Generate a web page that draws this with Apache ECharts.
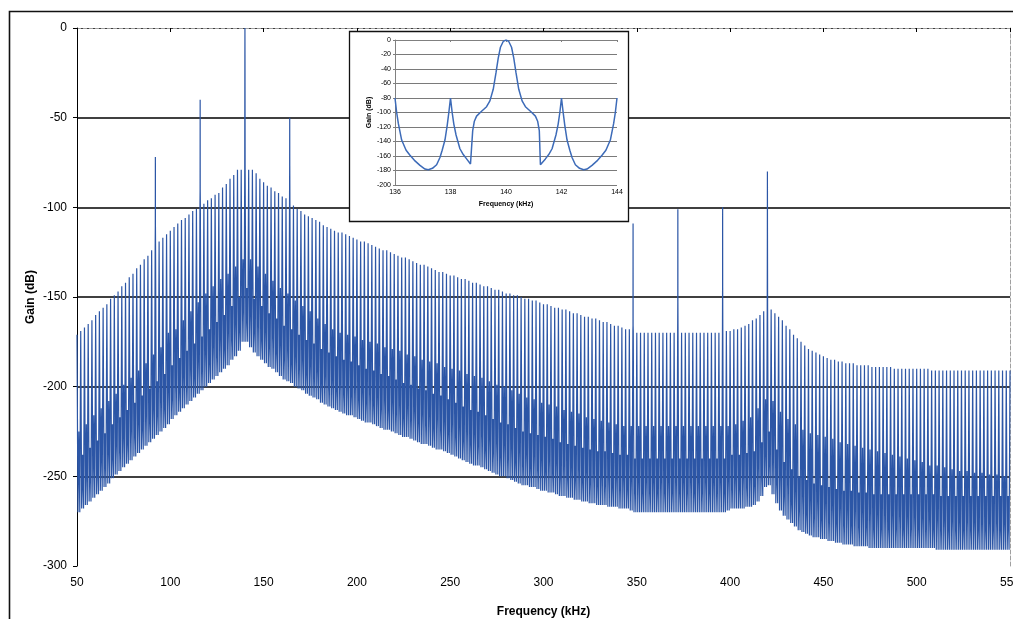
<!DOCTYPE html>
<html>
<head>
<meta charset="utf-8">
<script src="https://cdn.jsdelivr.net/npm/echarts@6/dist/echarts.min.js"></script>
<style>
  html, body { margin: 0; padding: 0; background: #fff; }
  #chart { width: 1013px; height: 619px; }
</style>
</head>
<body>
<div id="chart"></div>
<script>
// Harmonic lobes every 2 kHz from 50 to 550 kHz
const LOBE_START = 50;
const LOBE_STEP = 2;

// Lobe peak level (dB), one per lobe, 50..550 kHz
const peakDb = [
  -171,-169,-167,-165,-163,-160,-158,-156,-154,-151,
  -149,-147,-144,-142,-139,-137,-134,-132,-129,-127,
  -124,-122,-119,-117,-115,-113,-111,-109,-107,-106,
  -104,-102,-101,-99,-98,-96,-95,-93,-92,-89,
  -87,-84,-82,-79,-79,-78,-79,-79,-81,-84,
  -86,-88,-89,-91,-92,-94,-95,-97,-99,-101,
  -102,-104,-105,-106,-107,-108,-110,-111,-112,-113,
  -114,-114,-115,-116,-117,-118,-119,-119,-120,-121,
  -122,-123,-124,-124,-125,-126,-127,-128,-128,-129,
  -130,-131,-132,-132,-133,-134,-135,-136,-136,-137,
  -138,-138,-139,-140,-140,-141,-142,-142,-143,-144,
  -144,-145,-146,-146,-147,-148,-148,-149,-149,-150,
  -151,-151,-152,-152,-153,-154,-154,-155,-156,-156,
  -157,-157,-158,-159,-159,-160,-161,-161,-162,-162,
  -163,-164,-164,-165,-166,-166,-167,-168,-168,-169,
  -170,-170,-170,-170,-170,-170,-170,-170,-170,-170,
  -170,-170,-170,-170,-170,-170,-170,-170,-170,-170,
  -170,-170,-170,-170,-169,-169,-168,-168,-167,-166,
  -165,-163,-162,-160,-158,-157,-157,-159,-161,-163,
  -166,-168,-171,-173,-175,-177,-179,-180,-181,-182,
  -183,-184,-185,-185,-186,-186,-187,-187,-187,-188,
  -188,-188,-188,-189,-189,-189,-189,-189,-189,-190,
  -190,-190,-190,-190,-190,-190,-190,-190,-190,-191,
  -191,-191,-191,-191,-191,-191,-191,-191,-191,-191,
  -191,-191,-191,-191,-191,-191,-191,-191,-191,-191,
  -191
];

// Deep null between lobes (dB), lobes 50..548 kHz
const troughDb = [
  -270,-268,-266,-264,-262,-260,-258,-256,-254,-251,
  -249,-247,-245,-243,-241,-239,-237,-235,-233,-231,
  -229,-227,-225,-223,-221,-218,-216,-214,-212,-210,
  -208,-206,-204,-202,-200,-198,-196,-194,-192,-190,
  -188,-185,-183,-180,-175,-175,-178,-181,-183,-185,
  -187,-189,-190,-192,-194,-196,-197,-198,-200,-201,
  -202,-204,-205,-206,-207,-209,-210,-211,-212,-213,
  -214,-215,-216,-216,-217,-218,-219,-220,-220,-221,
  -222,-223,-224,-224,-225,-226,-227,-228,-228,-229,
  -230,-231,-232,-232,-233,-234,-235,-235,-236,-237,
  -238,-239,-240,-241,-242,-243,-244,-244,-245,-246,
  -247,-248,-249,-250,-250,-251,-252,-253,-254,-255,
  -255,-256,-256,-257,-258,-258,-259,-259,-260,-261,
  -261,-262,-262,-263,-263,-264,-264,-265,-265,-266,
  -266,-266,-267,-267,-267,-268,-268,-268,-269,-270,
  -270,-270,-270,-270,-270,-270,-270,-270,-270,-270,
  -270,-270,-270,-270,-270,-270,-270,-270,-270,-270,
  -270,-270,-270,-270,-269,-268,-268,-268,-268,-267,
  -267,-266,-264,-261,-256,-255,-260,-265,-269,-272,
  -274,-276,-278,-280,-281,-282,-283,-284,-284,-285,
  -285,-286,-286,-287,-287,-288,-288,-288,-289,-289,
  -289,-289,-290,-290,-290,-290,-290,-290,-290,-290,
  -290,-290,-290,-290,-290,-290,-290,-290,-290,-290,
  -291,-291,-291,-291,-291,-291,-291,-291,-291,-291,
  -291,-291,-291,-291,-291,-291,-291,-291,-291,-291
];

// Secondary sidelobe between two nulls (dB), lobes 50..548 kHz
const midDb = [
  -225,-238,-221,-234,-216,-230,-212,-226,-208,-221,
  -204,-217,-199,-213,-195,-209,-191,-205,-187,-201,
  -182,-197,-178,-193,-170,-188,-168,-184,-163,-180,
  -158,-176,-153,-172,-148,-168,-144,-164,-140,-160,
  -137,-155,-133,-150,-129,-145,-129,-151,-133,-155,
  -137,-159,-141,-162,-145,-166,-148,-168,-152,-171,
  -155,-174,-158,-176,-162,-179,-165,-181,-168,-183,
  -170,-185,-171,-186,-172,-188,-174,-190,-175,-191,
  -176,-193,-178,-194,-179,-196,-180,-198,-182,-199,
  -183,-201,-185,-202,-186,-204,-187,-205,-189,-207,
  -190,-209,-191,-211,-193,-213,-194,-214,-195,-216,
  -197,-218,-199,-220,-200,-221,-202,-223,-204,-225,
  -206,-226,-207,-227,-209,-228,-210,-229,-211,-231,
  -213,-232,-214,-233,-215,-234,-217,-235,-218,-236,
  -219,-236,-220,-237,-221,-238,-222,-238,-222,-240,
  -222,-240,-222,-240,-222,-240,-222,-240,-222,-240,
  -222,-240,-222,-240,-222,-240,-222,-240,-222,-240,
  -222,-240,-222,-240,-222,-238,-221,-238,-219,-237,
  -217,-236,-212,-231,-207,-225,-208,-235,-214,-242,
  -218,-246,-221,-250,-224,-252,-226,-254,-227,-255,
  -228,-256,-229,-257,-231,-258,-232,-258,-233,-259,
  -234,-259,-235,-260,-236,-260,-237,-260,-238,-260,
  -239,-260,-240,-260,-241,-260,-242,-260,-244,-260,
  -244,-261,-245,-261,-246,-261,-247,-261,-247,-261,
  -248,-261,-248,-261,-249,-261,-249,-261,-250,-261
];

// Discrete tones: carrier at 140 kHz and spurs every 24 kHz
const spurFreq     = [92, 116, 140, 164, 348, 372, 396, 420];
const spurTopDb    = [-72, -40, 0, -50, -109, -101, -100, -80];
const spurShoulder = [-110, -90, -15, -77, -166, -153, -145, -114];

// Zoomed view around the carrier (136..144 kHz)
const zoomFreq = [
  136.00,136.06,136.12,136.24,136.40,136.54,136.70,136.90,137.08,137.20,
  137.35,137.50,137.62,137.70,137.80,137.88,137.94,138.00,138.06,138.12,
  138.20,138.34,138.46,138.58,138.72,138.76,138.80,138.86,138.94,139.10,
  139.30,139.42,139.54,139.64,139.72,139.80,139.90,140.00,140.10,140.20,
  140.28,140.36,140.46,140.58,140.70,140.90,141.06,141.14,141.20,141.24,
  141.28,141.42,141.54,141.66,141.80,141.88,141.94,142.00,142.06,142.12,
  142.20,142.30,142.38,142.50,142.65,142.80,142.92,143.10,143.30,143.46,
  143.60,143.76,143.88,143.94,144.00
];
const zoomGain = [
  -80,-100,-115,-138,-152,-159,-166,-173,-178,-179,
  -177,-172,-162,-152,-138,-118,-100,-80,-100,-116,
  -131,-150,-158,-164,-171,-172,-125,-112,-105,-99,
  -92,-84,-68,-45,-25,-10,-2,0,-2,-10,
  -25,-45,-68,-84,-92,-99,-105,-112,-125,-172,
  -171,-164,-158,-150,-131,-116,-100,-80,-100,-118,
  -138,-152,-162,-172,-177,-179,-178,-173,-166,-159,
  -152,-138,-115,-100,-80
];

// Axis tick settings
const freqTicks = { min: 50, max: 550, step: 50 };
const gainTicks = { min: -300, max: 0, step: 50 };
const zoomFreqTicks = { min: 136, max: 144, step: 2 };
const zoomGainTicks = { min: -200, max: 0, step: 20 };

// Assemble the swept response: peak, null, secondary lobe, null, next peak
const spectrum = [];
peakDb.forEach((p, i) => {
  const f = LOBE_START + i * LOBE_STEP;
  const s = spurFreq.indexOf(f);
  if (s >= 0) {
    spectrum.push([f - 0.1, p], [f - 0.03, spurShoulder[s]], [f, spurTopDb[s]],
                  [f + 0.03, spurShoulder[s]], [f + 0.1, p]);
  } else {
    spectrum.push([f, p]);
  }
  if (i < troughDb.length) {
    spectrum.push([f + 0.5, troughDb[i]], [f + 1, midDb[i]], [f + 1.5, troughDb[i]]);
  }
});
const zoomData = zoomFreq.map((f, i) => [f, zoomGain[i]]);

const FONT = 'Liberation Sans, Arial, sans-serif';
const chart = echarts.init(document.getElementById('chart'), null, { renderer: 'canvas' });

chart.setOption({
  animation: false,
  backgroundColor: '#fff',
  textStyle: { fontFamily: FONT },
  grid: [
    { left: 77, right: 3, top: 28, bottom: 53, outerBoundsMode: 'none', containLabel: false },
    { left: 395, top: 40, width: 222, height: 145, outerBoundsMode: 'none', containLabel: false }
  ],
  xAxis: [
    {
      type: 'value', gridIndex: 0,
      min: freqTicks.min, max: freqTicks.max, interval: freqTicks.step,
      name: 'Frequency (kHz)', nameLocation: 'middle', nameGap: 40, nameMoveOverlap: false,
      nameTextStyle: { fontFamily: FONT, fontSize: 12, fontWeight: 'bold', color: '#000' },
      axisLine: { lineStyle: { color: '#000', width: 1 } },
      axisTick: { show: true, length: 4, lineStyle: { color: '#000' } },
      axisLabel: { color: '#000', fontSize: 12, fontFamily: FONT, margin: 11, showMaxLabel: true, hideOverlap: false },
      splitLine: { show: false }
    },
    {
      type: 'value', gridIndex: 0, position: 'top',
      min: freqTicks.min, max: freqTicks.max,
      axisLine: { lineStyle: { color: '#a0a0a0', type: 'dashed', width: 1 } },
      axisTick: { show: false }, axisLabel: { show: false }, splitLine: { show: false }
    },
    {
      type: 'value', gridIndex: 1, z: 20,
      min: zoomFreqTicks.min, max: zoomFreqTicks.max, interval: zoomFreqTicks.step,
      name: 'Frequency (kHz)', nameLocation: 'middle', nameGap: 16, nameMoveOverlap: false,
      nameTextStyle: { fontFamily: FONT, fontSize: 7, fontWeight: 'bold', color: '#000' },
      axisLine: { lineStyle: { color: '#808080', width: 1 } },
      axisTick: { show: true, length: 2, lineStyle: { color: '#808080' } },
      axisLabel: { color: '#000', fontSize: 7, fontFamily: FONT, margin: 4 },
      splitLine: { show: false }
    }
  ],
  yAxis: [
    {
      type: 'value', gridIndex: 0,
      min: gainTicks.min, max: gainTicks.max, interval: gainTicks.step,
      name: 'Gain (dB)', nameLocation: 'middle', nameGap: 40, nameRotate: 90, nameMoveOverlap: false,
      nameTextStyle: { fontFamily: FONT, fontSize: 12, fontWeight: 'bold', color: '#000' },
      axisLine: { show: true, lineStyle: { color: '#000', width: 1 } },
      axisTick: { show: true, length: 4, lineStyle: { color: '#000' } },
      axisLabel: { color: '#000', fontSize: 12, fontFamily: FONT, margin: 10 },
      splitLine: { show: true, showMaxLine: false, showMinLine: false, lineStyle: { color: '#000', width: 1.5 } }
    },
    {
      type: 'value', gridIndex: 0, position: 'right',
      min: gainTicks.min, max: gainTicks.max,
      axisLine: { show: true, lineStyle: { color: '#a0a0a0', type: 'dashed', width: 1 } },
      axisTick: { show: false }, axisLabel: { show: false }, splitLine: { show: false }
    },
    {
      type: 'value', gridIndex: 1, z: 20,
      min: zoomGainTicks.min, max: zoomGainTicks.max, interval: zoomGainTicks.step,
      name: 'Gain (dB)', nameLocation: 'middle', nameGap: 22, nameRotate: 90, nameMoveOverlap: false,
      nameTextStyle: { fontFamily: FONT, fontSize: 7, fontWeight: 'bold', color: '#000' },
      axisLine: { show: true, lineStyle: { color: '#808080', width: 1 } },
      axisTick: { show: true, length: 2, lineStyle: { color: '#808080' } },
      axisLabel: { color: '#000', fontSize: 7, fontFamily: FONT, margin: 4 },
      splitLine: { show: true, lineStyle: { color: '#7a7a7a', width: 1 } }
    }
  ],
  graphic: [
    {
      type: 'rect', z: 1, silent: true,
      shape: { x: 9.5, y: 11.5, width: 1200, height: 700 },
      style: { fill: null, stroke: '#111', lineWidth: 1.6 }
    },
    {
      type: 'rect', z: 15, silent: true,
      shape: { x: 349.5, y: 31.5, width: 279, height: 190 },
      style: { fill: '#fff', stroke: '#111', lineWidth: 1.3 }
    }
  ],
  series: [
    {
      type: 'line', xAxisIndex: 0, yAxisIndex: 0,
      data: spectrum, showSymbol: false, symbol: 'none',
      sampling: null, smooth: false,
      lineStyle: { color: '#2c56a6', width: 1.2 },
      z: 2
    },
    {
      type: 'line', xAxisIndex: 2, yAxisIndex: 2,
      data: zoomData, showSymbol: false, symbol: 'none', smooth: false,
      lineStyle: { color: '#3d6bb8', width: 1.5 },
      z: 21
    }
  ]
});
</script>
</body>
</html>
